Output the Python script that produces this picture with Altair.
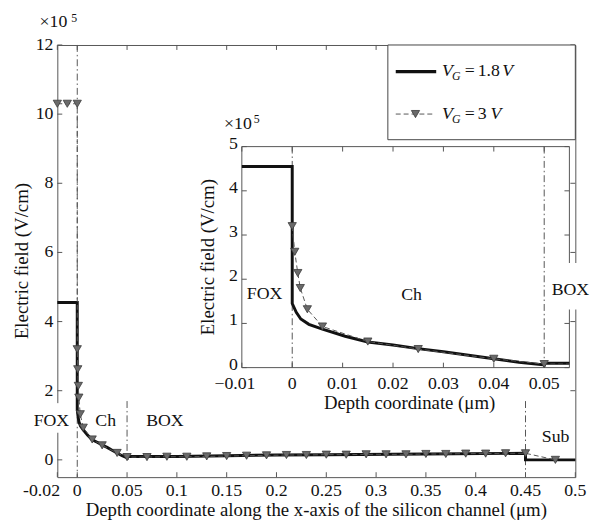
import altair as alt
import pandas as pd

# ---------------- data ----------------
# V_G = 1.8 V (solid line)
x_18 = [-0.02, 0, 0, 0.0008, 0.0017, 0.0033, 0.006, 0.0105, 0.015, 0.02, 0.025, 0.03,
        0.035, 0.04, 0.045, 0.05, 0.05, 0.1, 0.15, 0.2, 0.25, 0.35, 0.45, 0.45, 0.5]
y_18 = [4.55, 4.55, 1.45, 1.25, 1.10, 0.98, 0.87, 0.71, 0.58, 0.51, 0.43, 0.36,
        0.28, 0.20, 0.12, 0.06, 0.10, 0.10, 0.12, 0.14, 0.15, 0.17, 0.19, 0.0, 0.0]
# V_G = 3 V (dashed line with triangles)
x_3 = [-0.02, -0.01, 0, 0, 0.0005, 0.0011, 0.0016, 0.003, 0.006, 0.015, 0.025, 0.04,
       0.05, 0.07, 0.09, 0.11, 0.13, 0.15, 0.17, 0.19, 0.21, 0.23, 0.25, 0.27, 0.29,
       0.31, 0.33, 0.35, 0.37, 0.39, 0.41, 0.43, 0.45, 0.48]
y_3 = [10.3, 10.3, 10.3, 3.2, 2.62, 2.14, 1.80, 1.32, 0.93, 0.59, 0.42, 0.20,
       0.08, 0.08, 0.09, 0.09, 0.10, 0.11, 0.12, 0.13, 0.14, 0.14, 0.15, 0.15, 0.16,
       0.16, 0.16, 0.17, 0.17, 0.18, 0.18, 0.19, 0.19, 0.0]

# region boundaries (dash-dot lines)
main_dd_x = [0, 0.05, 0.45]
main_dd_top = [12, 1.7, 1.7]
main_dd_bot = [-0.5, 0.07, -0.5]
inset_dd_x = [0, 0.05]
inset_dd_top = [5, 5]
inset_dd_bot = [0, 0]

# ticks and tick labels
main_xticks = [-0.02, 0, 0.05, 0.1, 0.15, 0.2, 0.25, 0.3, 0.35, 0.4, 0.45, 0.5]
main_xlabels = ["-0.02", "0", "0.05", "0.1", "0.15", "0.2", "0.25", "0.3", "0.35", "0.4",
                "0.45", "0.5"]
main_yticks = [0, 2, 4, 6, 8, 10, 12]
main_ylabels = ["0", "2", "4", "6", "8", "10", "12"]
inset_xticks = [-0.01, 0, 0.01, 0.02, 0.03, 0.04, 0.05]
inset_xlabels = ["−0.01", "0", "0.01", "0.02", "0.03", "0.04", "0.05"]
inset_yticks = [0, 1, 2, 3, 4, 5]
inset_ylabels = ["0", "1", "2", "3", "4", "5"]

# ---------------- style ----------------
FONT = "Liberation Serif, Times New Roman, serif"
W, H = 525, 438
IX = [187, 519]
IY = [327, 103]
GRAY = "#555555"
INK = "#111111"

df18 = pd.DataFrame({"x": x_18, "y": y_18, "i": list(range(len(x_18)))})
df3 = pd.DataFrame({"x": x_3, "y": y_3, "i": list(range(len(x_3)))})
dd_main = pd.DataFrame({"x": main_dd_x, "top": main_dd_top, "bot": main_dd_bot})
dd_inset = pd.DataFrame({"x": inset_dd_x, "top": inset_dd_top, "bot": inset_dd_bot})
one = pd.DataFrame({"a": [0]})

XS = alt.Scale(domain=[-0.02, 0.5], nice=False, zero=False)
YS = alt.Scale(domain=[-0.5, 12], nice=False, zero=False)
XI = alt.Scale(domain=[-0.01, 0.055], range=IX, nice=False, zero=False, clamp=True)
YI = alt.Scale(domain=[0, 5], range=IY, nice=False, zero=False, clamp=True)


def txt(s, x, y, size=18, style="normal", align="center", angle=0):
    return alt.Chart(one).mark_text(text=s, font=FONT, fontSize=size, fontStyle=style,
                                    align=align, baseline="middle", color=INK,
                                    angle=angle).encode(x=alt.value(x), y=alt.value(y))


def box(x0, x1, y0, y1, fill="white", stroke=None):
    kw = {"fill": fill}
    if stroke:
        kw.update(stroke=stroke, strokeWidth=1)
    return alt.Chart(one).mark_rect(**kw).encode(
        x=alt.value(x0), x2=alt.value(x1), y=alt.value(y0), y2=alt.value(y1))


def frame_ticks(xt, yt, xs, ys, x0, x1, y0, y1):
    t = alt.Chart(pd.DataFrame({"t": xt})).mark_rule(color=GRAY, strokeWidth=1)
    u = alt.Chart(pd.DataFrame({"t": yt})).mark_rule(color=GRAY, strokeWidth=1)
    return [
        t.encode(x=alt.X("t:Q", scale=xs, axis=None), y=alt.value(y1), y2=alt.value(y1 - 5)),
        t.encode(x=alt.X("t:Q", scale=xs, axis=None), y=alt.value(y0), y2=alt.value(y0 + 5)),
        u.encode(y=alt.Y("t:Q", scale=ys, axis=None), x=alt.value(x0), x2=alt.value(x0 + 5)),
        u.encode(y=alt.Y("t:Q", scale=ys, axis=None), x=alt.value(x1), x2=alt.value(x1 - 5)),
    ]


def tick_labels(xt, xl, yt, yl, xs, ys, x0, y1, neg_dx, xpad, ydy):
    dx_ = pd.DataFrame({"t": xt, "lab": xl})
    dy_ = pd.DataFrame({"t": yt, "lab": yl})
    base = alt.Chart(dx_)
    return [
        base.transform_filter("datum.t >= 0").mark_text(
            font=FONT, fontSize=18, color=INK, baseline="top", align="center").encode(
            x=alt.X("t:Q", scale=xs, axis=None), y=alt.value(y1 + xpad), text="lab:N"),
        base.transform_filter("datum.t < 0").mark_text(
            font=FONT, fontSize=18, color=INK, baseline="top", align="center", dx=neg_dx).encode(
            x=alt.X("t:Q", scale=xs, axis=None), y=alt.value(y1 + xpad), text="lab:N"),
        alt.Chart(dy_).mark_text(
            font=FONT, fontSize=18, color=INK, baseline="middle", align="right", dy=ydy).encode(
            y=alt.Y("t:Q", scale=ys, axis=None), x=alt.value(x0 - 4), text="lab:N"),
    ]


tri = dict(shape="triangle-down", filled=True, size=70, fill="#6a6a6a",
           stroke="#3a3a3a", strokeWidth=0.8, opacity=1)

# ---------------- main plot ----------------
main_layers = frame_ticks(main_xticks, main_yticks, XS, YS, 0, W, 0, H)
main_layers += tick_labels(main_xticks, main_xlabels, main_yticks, main_ylabels,
                           XS, YS, 0, H, -16, 5, 0)
main_layers += [
    alt.Chart(dd_main).mark_rule(color=GRAY, strokeWidth=1, strokeDash=[7, 3, 1.5, 3]).encode(
        x=alt.X("x:Q", scale=XS, axis=None), y=alt.Y("top:Q", scale=YS, axis=None), y2="bot:Q"),
    alt.Chart(df18).mark_line(color=INK, strokeWidth=3).encode(
        x=alt.X("x:Q", scale=XS, axis=None), y=alt.Y("y:Q", scale=YS, axis=None), order="i:Q"),
    alt.Chart(df3).mark_line(color=GRAY, strokeWidth=1, strokeDash=[5, 3]).encode(
        x=alt.X("x:Q", scale=XS, axis=None), y=alt.Y("y:Q", scale=YS, axis=None), order="i:Q"),
    alt.Chart(df3).mark_point(**tri).encode(
        x=alt.X("x:Q", scale=XS, axis=None), y=alt.Y("y:Q", scale=YS, axis=None)),
    box(-4, 4, 363, 393),
    txt("FOX", -6, 381), txt("Ch", 49, 381), txt("BOX", 109, 381), txt("Sub", 505, 397),
    txt("×10", -18, -23, align="left"),
    txt("5", 14, -27, size=12, align="left"),
    txt("Depth coordinate along the x-axis of the silicon channel (μm)", W / 2, 471, size=19),
    txt("Electric field (V/cm)", -36, H / 2, size=19, angle=270),
    # legend
    box(335, 525, 0, 96, stroke="#444444"),
    alt.Chart(one).mark_rule(color=INK, strokeWidth=3.5).encode(
        x=alt.value(343), x2=alt.value(384), y=alt.value(27)),
    alt.Chart(one).mark_rule(color=GRAY, strokeWidth=1, strokeDash=[5, 3]).encode(
        x=alt.value(343), x2=alt.value(382), y=alt.value(70)),
    alt.Chart(one).mark_point(**tri).encode(x=alt.value(363), y=alt.value(70)),
    txt("V", 390, 26, size=18, style="italic", align="left"),
    txt("G", 400, 31, size=12, style="italic", align="left"),
    txt("=", 413, 26, size=18, align="left"),
    txt("1.8", 426, 26, size=18, align="left"),
    txt("V", 451, 26, size=18, style="italic", align="left"),
    txt("V", 390, 70, size=18, style="italic", align="left"),
    txt("G", 400, 75, size=12, style="italic", align="left"),
    txt("=", 413, 70, size=18, align="left"),
    txt("3", 426, 70, size=18, align="left"),
    txt("V", 439, 70, size=18, style="italic", align="left"),
]
main = alt.layer(*main_layers)

# ---------------- inset ----------------
in18 = alt.Chart(df18).transform_filter("datum.x <= 0.1")
in3 = alt.Chart(df3).transform_filter("datum.y <= 5 && datum.x <= 0.07")
in3p = alt.Chart(df3).transform_filter("datum.y <= 5 && datum.x <= 0.055")

inset_layers = [box(IX[0], IX[1], IY[1], IY[0], fill="white", stroke=GRAY)]
inset_layers += frame_ticks(inset_xticks, inset_yticks, XI, YI, IX[0], IX[1], IY[1], IY[0])
inset_layers += tick_labels(inset_xticks, inset_xlabels, inset_yticks, inset_ylabels,
                            XI, YI, IX[0], IY[0], -7, 8, -3)
inset_layers += [
    alt.Chart(dd_inset).mark_rule(color=GRAY, strokeWidth=1, strokeDash=[7, 3, 1.5, 3]).encode(
        x=alt.X("x:Q", scale=XI, axis=None), y=alt.Y("top:Q", scale=YI, axis=None), y2="bot:Q"),
    in18.mark_line(color=INK, strokeWidth=3).encode(
        x=alt.X("x:Q", scale=XI, axis=None), y=alt.Y("y:Q", scale=YI, axis=None), order="i:Q"),
    in3.mark_line(color=GRAY, strokeWidth=1, strokeDash=[5, 3]).encode(
        x=alt.X("x:Q", scale=XI, axis=None), y=alt.Y("y:Q", scale=YI, axis=None), order="i:Q"),
    in3p.mark_point(**tri).encode(
        x=alt.X("x:Q", scale=XI, axis=None), y=alt.Y("y:Q", scale=YI, axis=None)),
    box(508, 535, 221, 268),
    txt("FOX", 210, 252), txt("Ch", 359, 253), txt("BOX", 520, 248),
    txt("×10", 169, 80, align="left"),
    txt("5", 199, 75, size=12, align="left"),
    txt("Depth coordinate (μm)", 357, 363, size=19),
    txt("Electric field (V/cm)", 153, (IY[0] + IY[1]) / 2, size=19, angle=270),
]
inset = alt.layer(*inset_layers)

chart = alt.layer(main, inset).resolve_scale(x="independent", y="independent").properties(
    width=W, height=H,
    padding={"left": 50, "top": 34, "right": 24, "bottom": 44},
    autosize=alt.AutoSizeParams(type="none"),
).configure_view(stroke=GRAY, strokeWidth=1)

chart.save("out.html", embed_options={"renderer": "svg", "actions": False})
